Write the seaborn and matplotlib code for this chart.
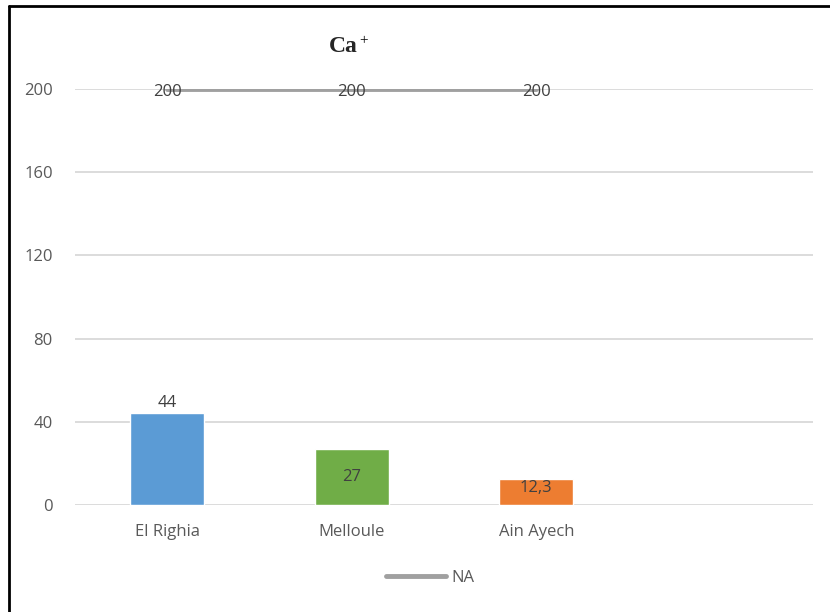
import matplotlib
matplotlib.use("Agg")
import matplotlib.pyplot as plt
import seaborn as sns
import pandas as pd
from matplotlib.lines import Line2D

categories = ["El Righia", "Melloule", "Ain Ayech"]
ca_values = [44, 27, 12.3]
ca_labels = ["44", "27", "12,3"]
na_values = [200, 200, 200]
na_labels = ["200", "200", "200"]
bar_colors = ["#5B9BD5", "#70AD47", "#ED7D31"]
y_ticks = [0, 40, 80, 120, 160, 200]

sns.set_theme(style="white")
plt.rcParams["font.family"] = ["Open Sans", "DejaVu Sans"]

fig = plt.figure(figsize=(8.3, 6.12), dpi=100)
W, H = 830, 612
ax = fig.add_axes([75 / W, (H - 505) / H, (813 - 75) / W, (505 - 89) / H])

df = pd.DataFrame({"cat": categories, "val": ca_values})
sns.barplot(data=df, x="cat", y="val", hue="cat", palette=bar_colors,
            width=0.4, legend=False, ax=ax, saturation=1, zorder=3)

sns.lineplot(x=list(range(len(na_values))), y=na_values, ax=ax, color="#A0A0A0",
             linewidth=3.5, zorder=4, legend=False)

fs = 12
for i, (v, t) in enumerate(zip(na_values, na_labels)):
    ax.text(i, v - 1.5, t, ha="center", va="center", fontsize=fs, color="#404040", zorder=5)

# bar labels: first above, others inside
ax.text(0, ca_values[0] + 1, ca_labels[0], ha="center", va="bottom", fontsize=fs, color="#404040", zorder=5)
ax.text(1, ca_values[1] / 2, ca_labels[1], ha="center", va="center", fontsize=fs, color="#404040", zorder=5)
ax.text(2, ca_values[2] - 0.3, ca_labels[2], ha="center", va="top", fontsize=fs, color="#404040", zorder=5)

ax.set_xlim(-0.5, 3.5)
ax.set_ylim(0, 200)
ax.set_yticks(y_ticks)
ax.set_yticklabels([str(t) for t in y_ticks])
ax.set_xticks(range(len(categories)))
ax.set_xticklabels(categories)
ax.tick_params(axis="both", length=0, labelsize=fs, labelcolor="#595959")
ax.tick_params(axis="y", pad=16)
ax.tick_params(axis="x", pad=14)
ax.set_xlabel("")
ax.set_ylabel("")
ax.grid(axis="y", color="#D9D9D9", linewidth=1.3, zorder=0)
ax.set_axisbelow(True)
for s in ax.spines.values():
    s.set_visible(False)

serif = ["Liberation Serif", "DejaVu Serif"]
fig.text(358 / W, 1 - 47 / H, "Ca", ha="right", va="center", fontsize=17,
         fontweight="bold", family=serif)
fig.text(359 / W, 1 - 41 / H, "+", ha="left", va="center", fontsize=11,
         family=serif, color="black")

handle = Line2D([], [], color="#A0A0A0", linewidth=3.5, solid_capstyle="round")
fig.legend([handle], ["NA"], loc="center", bbox_to_anchor=(430 / W, 1 - 578 / H),
           frameon=False, fontsize=fs, handlelength=3.6, handletextpad=0.3,
           labelcolor="#595959")

# outer border (left and top)
fig.add_artist(Line2D([8.5 / W, 8.5 / W], [0, 1 - 6 / H], color="black", linewidth=2,
                      transform=fig.transFigure))
fig.add_artist(Line2D([8.5 / W, 1], [1 - 6 / H, 1 - 6 / H], color="black", linewidth=2,
                      transform=fig.transFigure))

fig.savefig("out.png", dpi=100)
